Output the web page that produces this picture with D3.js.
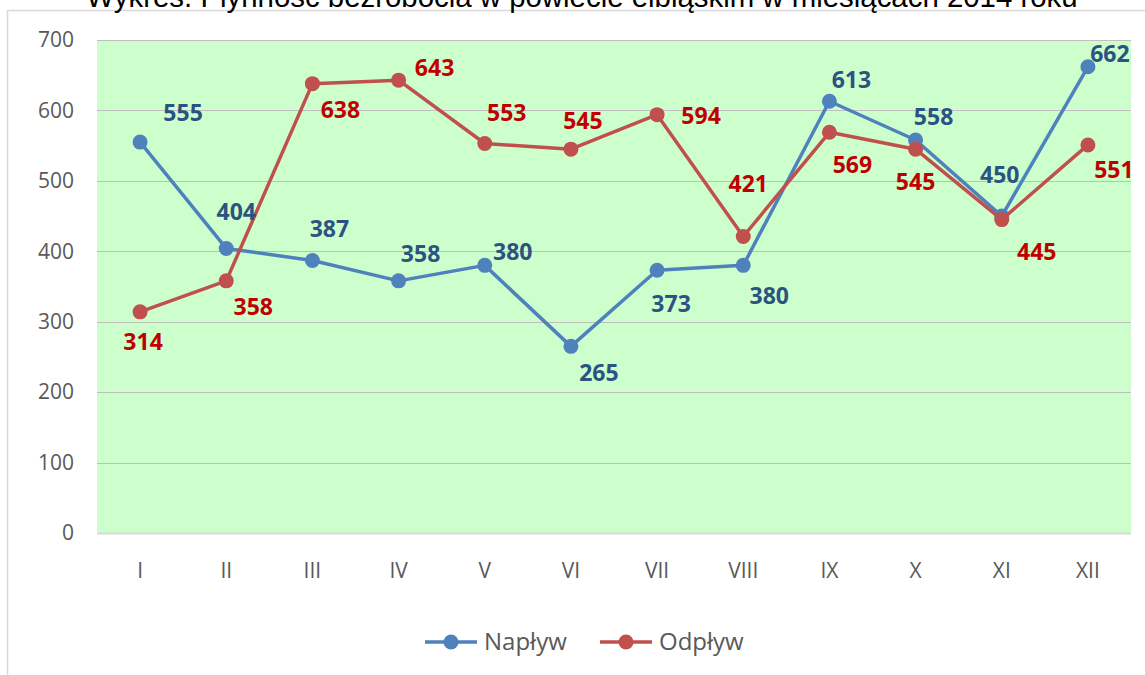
<!DOCTYPE html>
<html>
<head>
<meta charset="utf-8">
<script src="https://cdn.jsdelivr.net/npm/d3@7"></script>
<style>
  body { margin: 0; background: #fff; }
  svg { display: block; }
</style>
</head>
<body>
<div id="chart"></div>
<script>
// data
const months = ["I", "II", "III", "IV", "V", "VI", "VII", "VIII", "IX", "X", "XI", "XII"];
const naplyw = [555, 404, 387, 358, 380, 265, 373, 380, 613, 558, 450, 662];
const odplyw = [314, 358, 638, 643, 553, 545, 594, 421, 569, 545, 445, 551];
const yTicks = [0, 100, 200, 300, 400, 500, 600, 700];
const seriesNames = ["Napływ", "Odpływ"];
const titleText = "Wykres. Płynność bezrobocia w powiecie elbląskim w miesiącach 2014 roku";

// label placement (offset from the marker, px)
const naplywOffsets = [[43,-29],[10,-37],[17,-31],[22,-27],[28,-13],[28,27],[14,34],[26,31],[22,-21],[18,-23],[-2,-41],[22,-13]];
const odplywOffsets = [[3,30],[27,26],[28,26],[36,-12],[22,-31],[12,-28],[44,1],[5,-53],[23,33],[0,33],[35,32],[26,25]];

var width = 1145, height = 675;
var plot = {left: 97, right: 1131, top: 40, bottom: 533};
var blue = "#4F81BD", red = "#C0504D";
var font = "'Open Sans', Calibri, sans-serif";

var svg = d3.select("#chart").append("svg")
  .attr("width", width)
  .attr("height", height);

// chart frame
svg.append("path")
  .attr("d", "M7.5,675 V10.5 H1145")
  .attr("fill", "none")
  .attr("stroke", "#D9D9D9")
  .attr("stroke-width", 1.5);

// title (cut at the top like in the original)
svg.append("text")
  .attr("x", 582)
  .attr("y", 7)
  .attr("text-anchor", "middle")
  .attr("font-family", "'Liberation Sans', Arial, sans-serif")
  .attr("font-size", 29.4)
  .attr("fill", "#000")
  .text(titleText);

var x = d3.scaleBand()
  .domain(months)
  .range([plot.left, plot.right]);

var y = d3.scaleLinear()
  .domain([0, 700])
  .range([plot.bottom, plot.top]);

var cx = d => x(d) + x.bandwidth() / 2;

// plot background
svg.append("rect")
  .attr("x", plot.left)
  .attr("y", plot.top)
  .attr("width", plot.right - plot.left)
  .attr("height", plot.bottom - plot.top)
  .attr("fill", "#CCFFCC");

// gridlines
svg.append("g")
  .selectAll("line")
  .data(yTicks.filter(t => t > 0))
  .enter().append("line")
  .attr("x1", plot.left)
  .attr("x2", plot.right)
  .attr("y1", d => Math.round(y(d)) + 0.5)
  .attr("y2", d => Math.round(y(d)) + 0.5)
  .attr("stroke", "#BFBFBF")
  .attr("stroke-width", 1);

// category axis line
svg.append("line")
  .attr("x1", plot.left)
  .attr("x2", plot.right)
  .attr("y1", y(0) + 0.5)
  .attr("y2", y(0) + 0.5)
  .attr("stroke", "#D9D9D9")
  .attr("stroke-width", 2);

// Y axis
var yAxis = svg.append("g")
  .attr("transform", "translate(" + (plot.left - 23) + ",0)")
  .call(d3.axisLeft(y).tickValues(yTicks).tickSize(0).tickPadding(0));
yAxis.select(".domain").remove();
yAxis.selectAll("text")
  .attr("font-family", font)
  .attr("font-size", 21)
  .attr("fill", "#595959");

// X axis
var xAxis = svg.append("g")
  .attr("transform", "translate(0," + plot.bottom + ")")
  .call(d3.axisBottom(x).tickSize(0).tickPadding(30));
xAxis.select(".domain").remove();
xAxis.selectAll("text")
  .attr("font-family", font)
  .attr("font-size", 21)
  .attr("fill", "#595959");

// series
var series = [
  {name: seriesNames[0], values: naplyw, color: blue, labelColor: "#2C5282", offsets: naplywOffsets},
  {name: seriesNames[1], values: odplyw, color: red, labelColor: "#C00000", offsets: odplywOffsets}
];

var line = d3.line()
  .x((d, i) => cx(months[i]))
  .y(d => y(d));

series.forEach(function(s) {
  svg.append("path")
    .datum(s.values)
    .attr("d", line)
    .attr("fill", "none")
    .attr("stroke", s.color)
    .attr("stroke-width", 3.5)
    .attr("stroke-linejoin", "round");

  svg.append("g")
    .selectAll("circle")
    .data(s.values)
    .enter().append("circle")
    .attr("cx", (d, i) => cx(months[i]))
    .attr("cy", d => y(d))
    .attr("r", 7.5)
    .attr("fill", s.color);
});

// data labels on top of everything
series.forEach(function(s) {
  svg.append("g")
    .selectAll("text")
    .data(s.values)
    .enter().append("text")
    .attr("x", (d, i) => cx(months[i]) + s.offsets[i][0])
    .attr("y", (d, i) => y(d) + s.offsets[i][1])
    .attr("dy", "0.35em")
    .attr("text-anchor", "middle")
    .attr("font-family", font)
    .attr("font-weight", 700)
    .attr("font-size", 23)
    .attr("fill", s.labelColor)
    .text(d => d);
});

// legend
var legend = svg.append("g").attr("transform", "translate(0,642)");
var legendX = [425, 600];
series.forEach(function(s, i) {
  var g = legend.append("g").attr("transform", "translate(" + legendX[i] + ",0)");
  g.append("line")
    .attr("x1", 0).attr("x2", 52)
    .attr("stroke", s.color)
    .attr("stroke-width", 3.5);
  g.append("circle")
    .attr("cx", 26)
    .attr("r", 7.5)
    .attr("fill", s.color);
  g.append("text")
    .attr("x", 59)
    .attr("dy", "0.35em")
    .attr("font-family", font)
    .attr("font-size", 24)
    .attr("fill", "#595959")
    .text(s.name);
});
</script>
</body>
</html>
